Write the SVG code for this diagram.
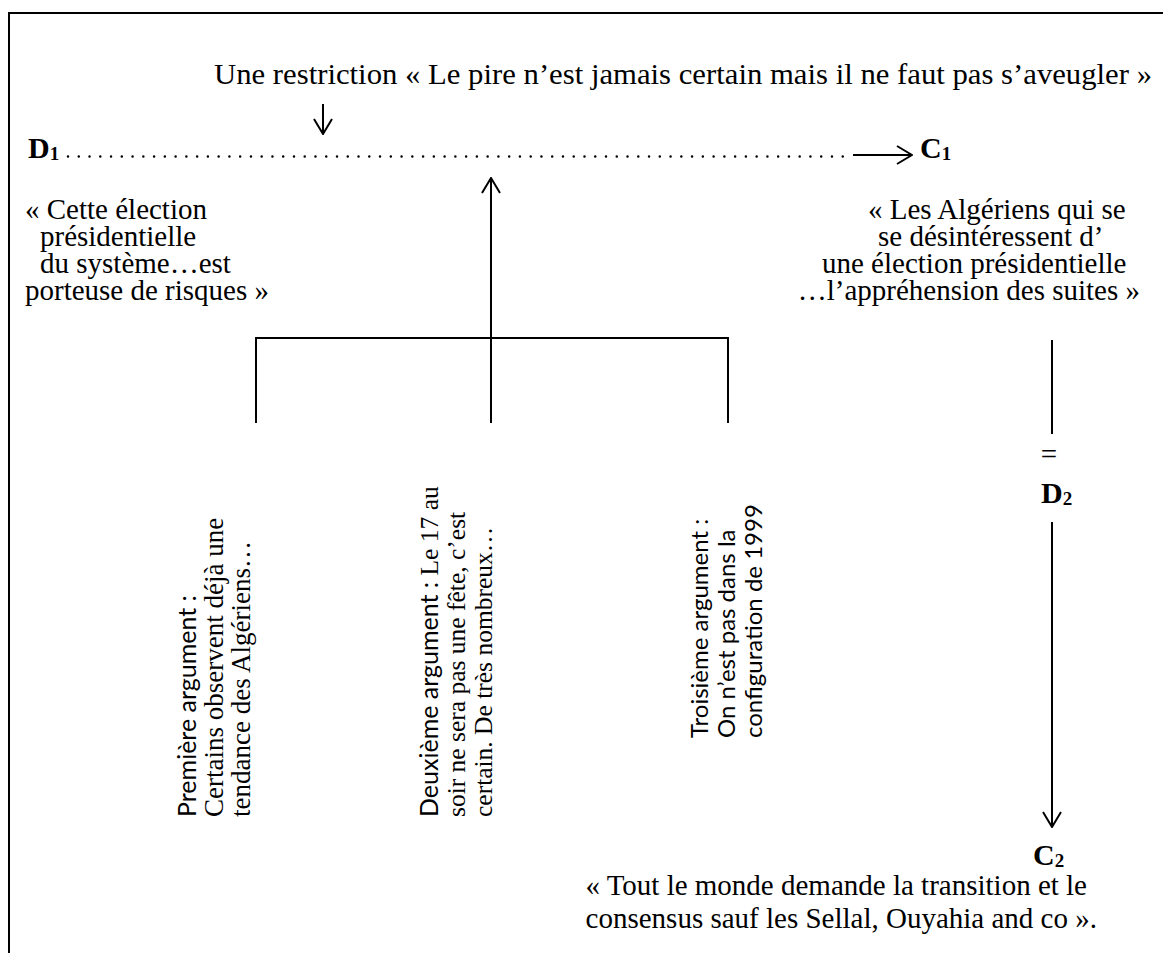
<svg xmlns="http://www.w3.org/2000/svg" width="1163" height="953" viewBox="0 0 1163 953">
  <style>
    .serif { font-family: "Liberation Serif", "Times New Roman", serif; font-size: 29px; fill: #000; }
    .bold { font-family: "Liberation Serif", "Times New Roman", serif; font-size: 30px; font-weight: bold; fill: #000; }
    .sub { font-size: 19px; }
    .vs { font-family: "Liberation Serif", "Times New Roman", serif; font-size: 25.5px; fill: #000; }
    .vs1 { font-family: "Liberation Serif", "Times New Roman", serif; font-size: 27px; fill: #000; }
    .vc { font-family: Lato, "Noto Sans", sans-serif; font-size: 25px; fill: #000; }
    .vc3 { font-family: Lato, "Noto Sans", sans-serif; font-size: 24px; fill: #000; }
    .ln { stroke: #000; stroke-width: 2; fill: none; }
    .dots { stroke: #000; stroke-width: 2.5; stroke-linecap: round; stroke-dasharray: 0.01 10.75; fill: none; }
  </style>
  <defs>
    <marker id="open" viewBox="0 0 17 20" refX="16" refY="10" markerWidth="17" markerHeight="20" markerUnits="userSpaceOnUse" orient="auto">
      <path d="M1,1 L16,10 L1,19" fill="none" stroke="#000" stroke-width="2"/>
    </marker>
  </defs>

  <!-- page frame -->
  <path class="ln" d="M9,953 V13 H1163" stroke-width="2.6"/>

  <!-- connectors -->
  <g id="connectors">
    <line class="ln" x1="323" y1="104" x2="323" y2="134" marker-end="url(#open)"/>
    <line class="dots" x1="68" y1="156.5" x2="846" y2="156.5"/>
    <line class="ln" x1="853" y1="155" x2="912" y2="155" marker-end="url(#open)"/>
    <line class="ln" x1="491" y1="423" x2="491" y2="178" marker-end="url(#open)"/>
    <path class="ln" d="M256,423 V338 H728 V423"/>
    <line class="ln" x1="1052" y1="340" x2="1052" y2="434"/>
    <line class="ln" x1="1052" y1="522" x2="1052" y2="827" marker-end="url(#open)"/>
  </g>

  <g id="restriction">
    <text class="serif" x="214" y="84" font-size="30.5" textLength="938" lengthAdjust="spacingAndGlyphs">Une restriction « Le pire n’est jamais certain mais il ne faut pas s’aveugler »</text>
  </g>

  <g id="d1">
    <text class="bold" x="28" y="158">D<tspan class="sub" dy="2">1</tspan></text>
  </g>

  <g id="c1">
    <text class="bold" x="920" y="158">C<tspan class="sub" dy="2">1</tspan></text>
  </g>

  <g id="d1-quote">
    <text class="serif" x="25" y="219">« Cette élection</text>
    <text class="serif" x="40" y="246">présidentielle</text>
    <text class="serif" x="40" y="273">du système…est</text>
    <text class="serif" x="25" y="300">porteuse de risques »</text>
  </g>

  <g id="c1-quote">
    <text class="serif" x="868" y="219">« Les Algériens qui se</text>
    <text class="serif" x="878" y="246">se désintéressent d’</text>
    <text class="serif" x="822" y="273">une élection présidentielle</text>
    <text class="serif" x="1140" y="300" text-anchor="end">…l’appréhension des suites »</text>
  </g>

  <g id="argument-1">
    <text class="vc" transform="translate(196,817) rotate(-90)">Première argument :</text>
    <text class="vs1" transform="translate(223,817) rotate(-90)">Certains observent déjà une</text>
    <text class="vs1" transform="translate(250,817) rotate(-90)">tendance des Algériens…</text>
  </g>

  <g id="argument-2">
    <text class="vs" transform="translate(438,817) rotate(-90)"><tspan class="vc">Deuxième argument :</tspan> Le 17 au</text>
    <text class="vs" transform="translate(465,817) rotate(-90)">soir ne sera pas une fête, c’est</text>
    <text class="vs" transform="translate(492,817) rotate(-90)">certain. De très nombreux…</text>
  </g>

  <g id="argument-3">
    <text class="vc3" transform="translate(708,738) rotate(-90)">Troisième argument :</text>
    <text class="vc3" transform="translate(735,738) rotate(-90)">On n’est pas dans la</text>
    <text class="vc3" transform="translate(762,738) rotate(-90)">configuration de 1999</text>
  </g>

  <g id="eq">
    <text class="serif" x="1049" y="464" text-anchor="middle">=</text>
  </g>

  <g id="d2">
    <text class="bold" x="1041" y="503">D<tspan class="sub" dy="2">2</tspan></text>
  </g>

  <g id="c2">
    <text class="bold" x="1033" y="865">C<tspan class="sub" dy="2">2</tspan></text>
  </g>

  <g id="c2-quote">
    <text class="serif" x="1087" y="895" text-anchor="end">« Tout le monde demande la transition et le</text>
    <text class="serif" x="1097" y="928" text-anchor="end">consensus sauf les Sellal, Ouyahia and co ».</text>
  </g>
</svg>
